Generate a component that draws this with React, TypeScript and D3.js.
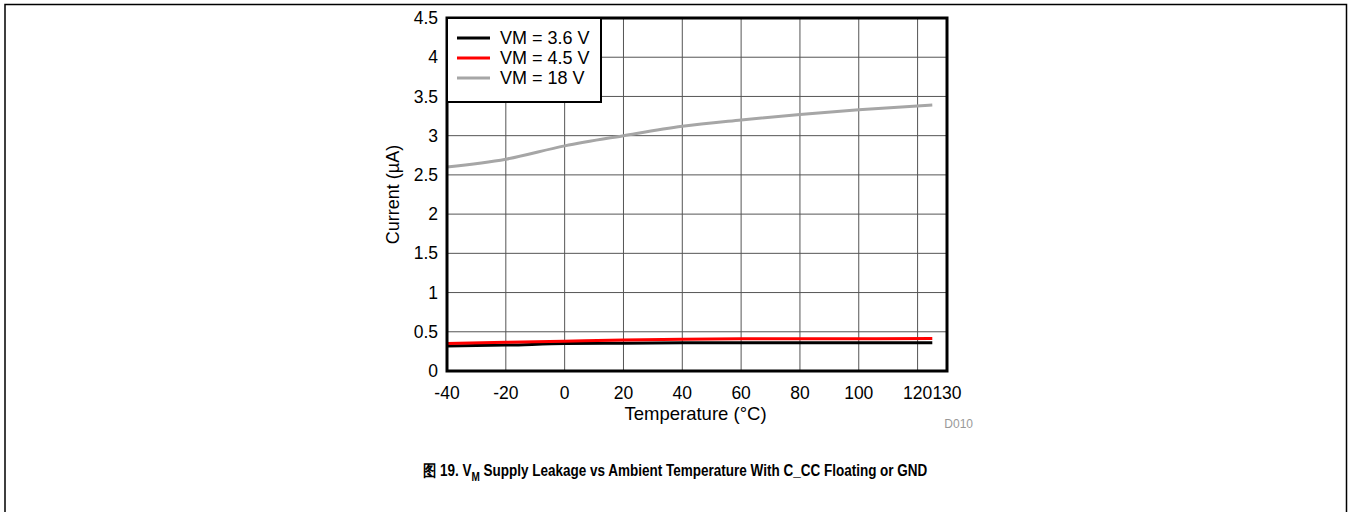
import React, { useEffect, useRef } from "react";
import * as d3 from "d3";

const temps = [-40, -20, 0, 20, 40, 60, 80, 100, 125];
const vm36 = [0.32, 0.33, 0.35, 0.355, 0.36, 0.36, 0.36, 0.36, 0.36];
const vm45 = [0.35, 0.365, 0.38, 0.395, 0.405, 0.41, 0.41, 0.41, 0.415];
const vm18 = [2.6, 2.7, 2.87, 3.0, 3.12, 3.2, 3.27, 3.33, 3.39];

const xTicks = [-40, -20, 0, 20, 40, 60, 80, 100, 120, 130];
const yTicks = [0, 0.5, 1, 1.5, 2, 2.5, 3, 3.5, 4, 4.5];

const seriesNames = ["VM = 3.6 V", "VM = 4.5 V", "VM = 18 V"];
const seriesColors = ["#000000", "#ff0000", "#a6a6a6"];

const FONT = "Arial, 'Liberation Sans', sans-serif";

export default function App() {
  const svgRef = useRef<SVGSVGElement>(null);

  useEffect(() => {
    if (!svgRef.current) return;
    const root = d3.select(svgRef.current);
    root.selectAll("*").remove();

    const W = 1350, H = 512;
    const margin = { top: 18, right: 403, bottom: 141, left: 447 };
    const width = W - margin.left - margin.right;
    const height = H - margin.top - margin.bottom;

    root.attr("width", W).attr("height", H);

    // outer frame
    root.append("path")
      .attr("d", `M5,${H} V4.5 H1346.5 V${H}`)
      .attr("fill", "none").attr("stroke", "#000").attr("stroke-width", 1.5);

    const svg = root.append("g").attr("transform", `translate(${margin.left},${margin.top})`);

    const x = d3.scaleLinear().domain([-40, 130]).range([0, width]);
    const y = d3.scaleLinear().domain([0, 4.5]).range([height, 0]);

    // grid
    svg.append("g").selectAll("line").data(xTicks.slice(1, -1)).join("line")
      .attr("x1", d => x(d)).attr("x2", d => x(d)).attr("y1", 0).attr("y2", height)
      .attr("stroke", "#555").attr("stroke-width", 1);
    svg.append("g").selectAll("line").data(yTicks.slice(1, -1)).join("line")
      .attr("x1", 0).attr("x2", width).attr("y1", d => y(d)).attr("y2", d => y(d))
      .attr("stroke", "#555").attr("stroke-width", 1);

    // lines
    const all = [vm36, vm45, vm18];
    const line = d3.line<number>().x((_, i) => x(temps[i])).y(d => y(d)).curve(d3.curveMonotoneX);
    [2, 0, 1].forEach(k => {
      svg.append("path").datum(all[k]).attr("fill", "none")
        .attr("stroke", seriesColors[k]).attr("stroke-width", 3).attr("d", line);
    });

    // frame of plot
    svg.append("rect").attr("width", width).attr("height", height)
      .attr("fill", "none").attr("stroke", "#000").attr("stroke-width", 3);

    // tick labels
    svg.append("g").selectAll("text").data(xTicks).join("text")
      .attr("x", d => x(d)).attr("y", height + 28)
      .attr("text-anchor", "middle").attr("font-family", FONT).attr("font-size", 17.5)
      .text(d => String(d));
    svg.append("g").selectAll("text").data(yTicks).join("text")
      .attr("x", -9).attr("y", d => y(d)).attr("dy", "0.35em")
      .attr("text-anchor", "end").attr("font-family", FONT).attr("font-size", 17.5)
      .text(d => String(d));

    // axis titles
    svg.append("text")
      .attr("x", x(44.5)).attr("y", height + 49)
      .attr("text-anchor", "middle").attr("font-family", FONT).attr("font-size", 18.5)
      .text("Temperature (°C)");
    svg.append("text")
      .attr("transform", `translate(-48,${height / 2}) rotate(-90)`)
      .attr("text-anchor", "middle").attr("font-family", FONT).attr("font-size", 18)
      .text("Current (µA)");

    svg.append("text")
      .attr("x", width + 26).attr("y", height + 57)
      .attr("text-anchor", "end").attr("font-family", FONT).attr("font-size", 12)
      .attr("fill", "#999").text("D010");

    // legend
    const lg = svg.append("g");
    lg.append("rect").attr("x", 0).attr("y", 0).attr("width", 154).attr("height", 84)
      .attr("fill", "#fff").attr("stroke", "#000").attr("stroke-width", 2);
    seriesNames.forEach((name, i) => {
      const ly = 20 + i * 20;
      lg.append("line").attr("x1", 10).attr("x2", 43).attr("y1", ly).attr("y2", ly)
        .attr("stroke", seriesColors[i]).attr("stroke-width", 3);
      lg.append("text").attr("x", 53).attr("y", ly).attr("dy", "0.35em")
        .attr("font-family", FONT).attr("font-size", 18).text(name);
    });

    // caption
    const cap = root.append("text")
      .attr("transform", `translate(${W / 2},476) scale(1,1.2)`)
      .attr("text-anchor", "middle").attr("font-family", FONT)
      .attr("font-size", 13.5).attr("font-weight", "bold");
    cap.append("tspan").text("图 19. V");
    cap.append("tspan").attr("font-size", 10).attr("dy", 4).text("M");
    cap.append("tspan").attr("dy", -4).text(" Supply Leakage vs Ambient Temperature With C_CC Floating or GND");
  }, []);

  return (
    <div style={{ position: "absolute", left: 0, top: 0, background: "#fff" }}>
      <svg ref={svgRef} style={{ display: "block" }}></svg>
    </div>
  );
}
